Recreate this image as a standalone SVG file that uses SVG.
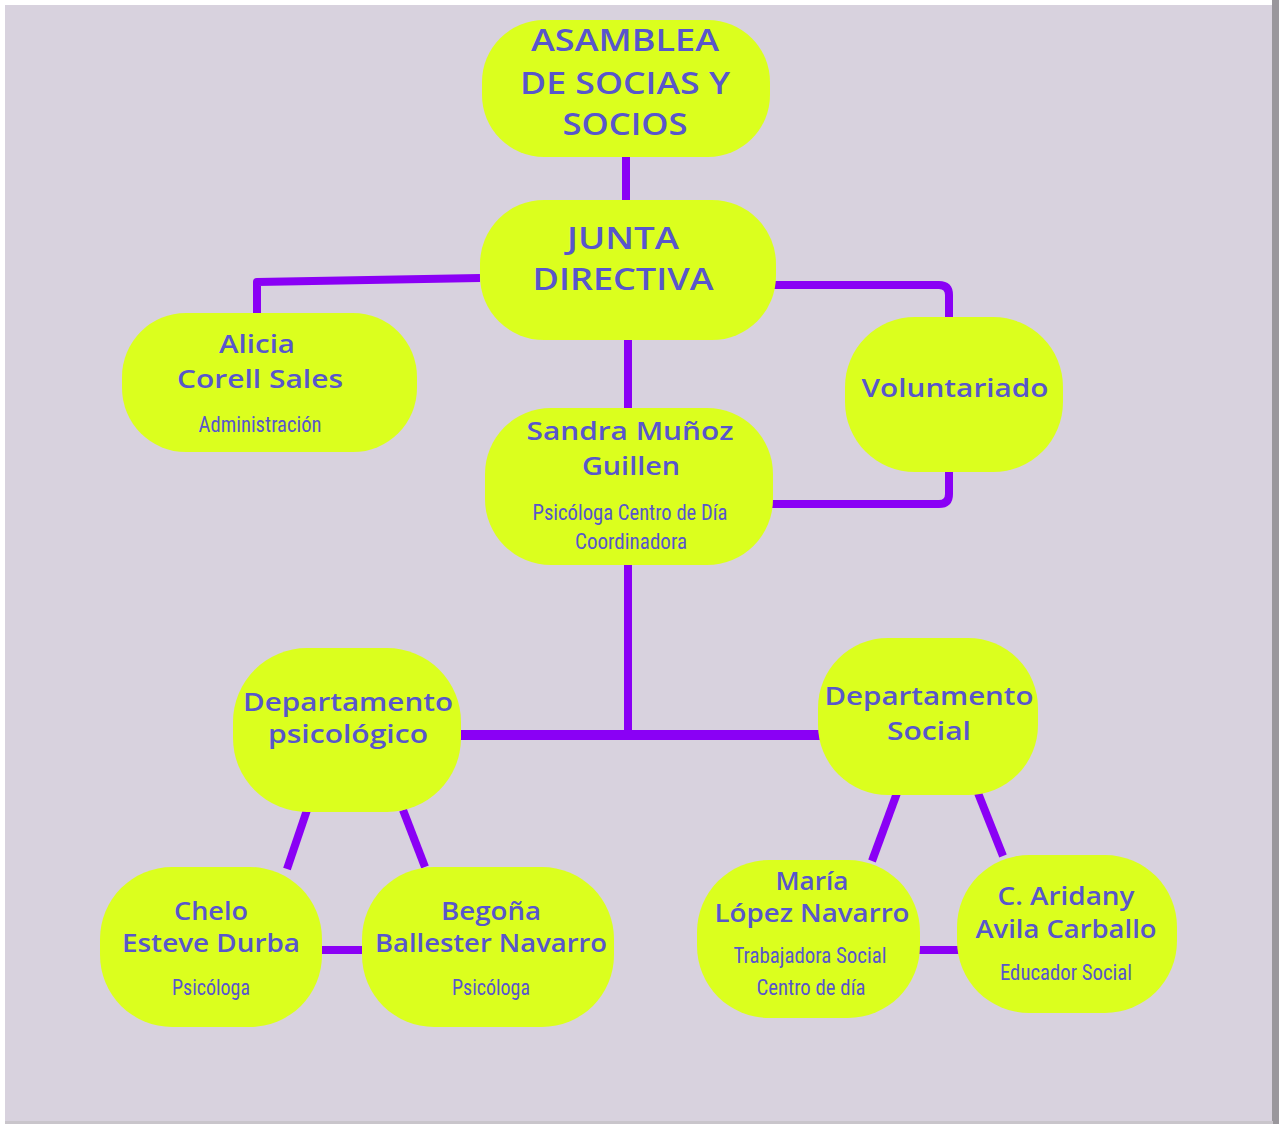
<svg xmlns="http://www.w3.org/2000/svg" width="1279" height="1124" viewBox="0 0 1279 1124">
<style>
.node{fill:#dbff1e;}
.h{font-family:"Open Sans","Lato","Noto Sans",sans-serif;font-weight:600;fill:#5856cc;text-anchor:middle;}
.big{font-size:30px;}
.name{font-size:25px;}
.sub{font-family:"Roboto Condensed","Liberation Sans Narrow","DejaVu Sans Condensed",Roboto,sans-serif;font-size:22px;font-weight:400;fill:#5856cc;text-anchor:middle;}
.c{stroke:#8a00f5;stroke-width:8;fill:none;stroke-linejoin:round;}
</style>
<rect x="0" y="0" width="1279" height="1124" fill="#ffffff"/>
<rect x="5" y="5" width="1268" height="1117" fill="#d8d2de"/>
<rect x="1272" y="0" width="7" height="1124" fill="#9a979c"/>
<rect x="5" y="1121" width="1268" height="3" fill="#c9c5cb"/>

<g id="connectors">
<line class="c" x1="626" y1="155" x2="626" y2="202"/>
<polyline class="c" points="480,278 257,282 257,315"/>
<path class="c" d="M774,285 H939 Q949,285 949,295 V318"/>
<path class="c" d="M949,470 V494 Q949,504 939,504 H771"/>
<line class="c" x1="628" y1="338" x2="628" y2="410"/>
<line class="c" x1="628" y1="563" x2="628" y2="740"/>
<line class="c" x1="460" y1="735" x2="820" y2="735" style="stroke-width:10"/>
<line class="c" x1="307" y1="810" x2="287" y2="869"/>
<line class="c" x1="403" y1="810" x2="425" y2="867"/>
<line class="c" x1="320" y1="950" x2="364" y2="950"/>
<line class="c" x1="897" y1="793" x2="872" y2="861"/>
<line class="c" x1="978" y1="793" x2="1003" y2="856"/>
<line class="c" x1="918" y1="950" x2="959" y2="950"/>
</g>

<g id="asamblea">
<rect class="node" x="482" y="20" width="288" height="137" rx="62"/>
<text class="h big" x="625" y="51" textLength="188" lengthAdjust="spacingAndGlyphs">ASAMBLEA</text>
<text class="h big" x="625" y="94" textLength="210" lengthAdjust="spacingAndGlyphs">DE SOCIAS Y</text>
<text class="h big" x="625" y="135" textLength="125" lengthAdjust="spacingAndGlyphs">SOCIOS</text>
</g>

<g id="junta">
<rect class="node" x="480" y="200" width="296" height="140" rx="64"/>
<text class="h big" x="623" y="249" textLength="112" lengthAdjust="spacingAndGlyphs">JUNTA</text>
<text class="h big" x="623" y="290" textLength="181" lengthAdjust="spacingAndGlyphs">DIRECTIVA</text>
</g>

<g id="alicia">
<rect class="node" x="122" y="313" width="295" height="139" rx="64"/>
<text class="h name" x="257" y="353" textLength="76" lengthAdjust="spacingAndGlyphs">Alicia</text>
<text class="h name" x="260" y="388" textLength="166" lengthAdjust="spacingAndGlyphs">Corell Sales</text>
<text class="sub" x="260" y="432" textLength="123" lengthAdjust="spacingAndGlyphs">Administración</text>
</g>

<g id="voluntariado">
<rect class="node" x="845" y="317" width="218" height="155" rx="70"/>
<text class="h name" x="955" y="397" textLength="187" lengthAdjust="spacingAndGlyphs">Voluntariado</text>
</g>

<g id="sandra">
<rect class="node" x="485" y="408" width="288" height="157" rx="66"/>
<text class="h name" x="630" y="440" textLength="207" lengthAdjust="spacingAndGlyphs">Sandra Muñoz</text>
<text class="h name" x="631" y="475" textLength="98" lengthAdjust="spacingAndGlyphs">Guillen</text>
<text class="sub" x="630" y="520" textLength="195" lengthAdjust="spacingAndGlyphs">Psicóloga Centro de Día</text>
<text class="sub" x="631" y="549" textLength="112" lengthAdjust="spacingAndGlyphs">Coordinadora</text>
</g>

<g id="dept-psicologico">
<rect class="node" x="233" y="648" width="228" height="164" rx="74"/>
<text class="h name" x="348" y="711" textLength="210" lengthAdjust="spacingAndGlyphs">Departamento</text>
<text class="h name" x="348" y="743" textLength="160" lengthAdjust="spacingAndGlyphs">psicológico</text>
</g>

<g id="dept-social">
<rect class="node" x="818" y="638" width="220" height="157" rx="70"/>
<text class="h name" x="929" y="705" textLength="209" lengthAdjust="spacingAndGlyphs">Departamento</text>
<text class="h name" x="929" y="740" textLength="84" lengthAdjust="spacingAndGlyphs">Social</text>
</g>

<g id="chelo">
<rect class="node" x="100" y="867" width="222" height="160" rx="72"/>
<text class="h name" x="211" y="920" textLength="74" lengthAdjust="spacingAndGlyphs">Chelo</text>
<text class="h name" x="211" y="952" textLength="178" lengthAdjust="spacingAndGlyphs">Esteve Durba</text>
<text class="sub" x="211" y="995" textLength="78" lengthAdjust="spacingAndGlyphs">Psicóloga</text>
</g>

<g id="begona">
<rect class="node" x="362" y="867" width="252" height="160" rx="72"/>
<text class="h name" x="491" y="920" textLength="100" lengthAdjust="spacingAndGlyphs">Begoña</text>
<text class="h name" x="491" y="952" textLength="232" lengthAdjust="spacingAndGlyphs">Ballester Navarro</text>
<text class="sub" x="491" y="995" textLength="78" lengthAdjust="spacingAndGlyphs">Psicóloga</text>
</g>

<g id="maria">
<rect class="node" x="697" y="860" width="223" height="158" rx="72"/>
<text class="h name" x="812" y="890" textLength="73" lengthAdjust="spacingAndGlyphs">María</text>
<text class="h name" x="812" y="922" textLength="195" lengthAdjust="spacingAndGlyphs">López Navarro</text>
<text class="sub" x="810" y="963" textLength="153" lengthAdjust="spacingAndGlyphs">Trabajadora Social</text>
<text class="sub" x="811" y="995" textLength="109" lengthAdjust="spacingAndGlyphs">Centro de día</text>
</g>

<g id="aridany">
<rect class="node" x="957" y="855" width="220" height="158" rx="72"/>
<text class="h name" x="1066" y="905" textLength="137" lengthAdjust="spacingAndGlyphs">C. Aridany</text>
<text class="h name" x="1066" y="938" textLength="181" lengthAdjust="spacingAndGlyphs">Avila Carballo</text>
<text class="sub" x="1066" y="980" textLength="132" lengthAdjust="spacingAndGlyphs">Educador Social</text>
</g>
</svg>
